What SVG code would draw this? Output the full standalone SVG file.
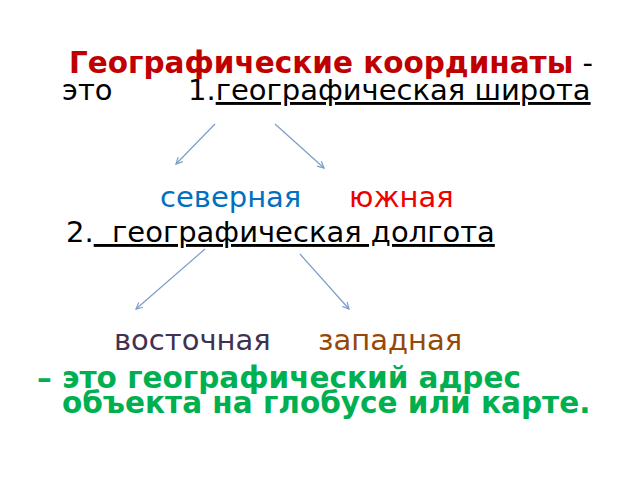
<svg xmlns="http://www.w3.org/2000/svg" width="640" height="480" viewBox="0 0 640 480">
<style>
text{font-family:"DejaVu Sans","Noto Sans",sans-serif;font-size:29px;fill:#000}
.b{font-weight:bold;font-size:29.5px}
.red{fill:#c00000}
.blue{fill:#0070c0}
.bright{fill:#ee0000}
.purple{fill:#403152}
.brown{fill:#984806}
.green{fill:#00b050}
.u{text-decoration:underline}
.conn line{stroke:#7b9dc9;stroke-width:1.2;fill:none}
</style>
<defs>
<marker id="ah" viewBox="0 0 10 10" refX="9" refY="5" markerWidth="8" markerHeight="8" markerUnits="userSpaceOnUse" orient="auto">
<path d="M1,1 L9,5 L1,9" fill="none" stroke="#7b9dc9" stroke-width="1.5"/>
</marker>
</defs>
<rect width="640" height="480" fill="#fff"/>
<g id="title">
<text x="69" y="73"><tspan class="b red">Географические координаты</tspan> -</text>
</g>
<g id="latitude">
<text x="62" y="100">это</text>
<text x="188" y="100">1.<tspan class="u">географическая широта</tspan></text>
</g>
<g id="north"><text class="blue" x="160" y="207">северная</text></g>
<g id="south"><text class="bright" x="349" y="207">южная</text></g>
<g id="longitude"><text x="66" y="242">2.<tspan class="u">&#160;&#160;географическая долгота</tspan></text></g>
<g id="east"><text class="purple" x="114" y="350">восточная</text></g>
<g id="west"><text class="brown" x="318" y="350">западная</text></g>
<g id="definition">
<text class="b green" x="37" y="388">– это географический адрес</text>
<text class="b green" x="62" y="413">объекта на глобусе или карте.</text>
</g>
<g class="conn">
<line x1="215" y1="124" x2="176" y2="164" marker-end="url(#ah)"/>
<line x1="275" y1="124" x2="324" y2="168" marker-end="url(#ah)"/>
<line x1="205" y1="249" x2="136" y2="309" marker-end="url(#ah)"/>
<line x1="300" y1="254" x2="349" y2="309" marker-end="url(#ah)"/>
</g>
</svg>
